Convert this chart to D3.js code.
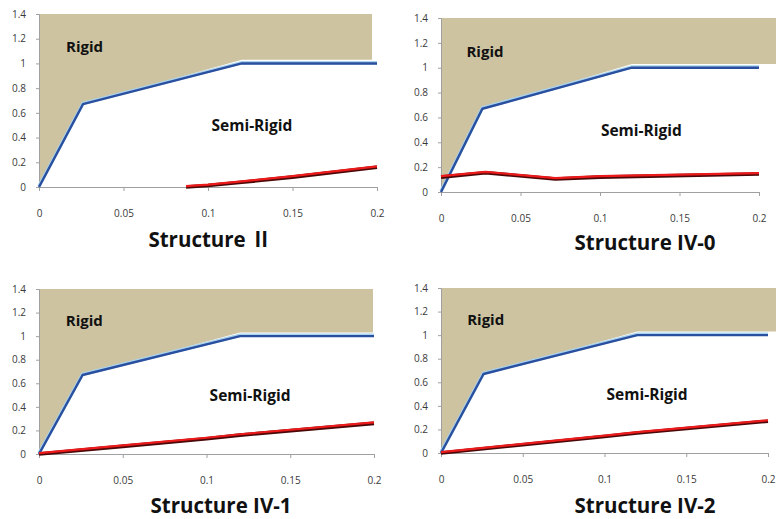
<!DOCTYPE html>
<html>
<head>
<meta charset="utf-8">
<script src="https://cdn.jsdelivr.net/npm/d3@7"></script>
<style>
  body { margin: 0; background: #fff; }
  svg { display: block; }
  .tick text { font-family: "Open Sans", "DejaVu Sans", sans-serif; fill: #3a3a3a; }
</style>
</head>
<body>
<svg id="chart" width="778" height="519"></svg>
<script>
//Axis ticks
const X_TICKS = [0, 0.05, 0.1, 0.15, 0.2];
const Y_TICKS = [0, 0.2, 0.4, 0.6, 0.8, 1, 1.2, 1.4];

//Rigid / semi-rigid boundary (same for all structures)
const BOUND_X = [0, 0.026, 0.12, 0.2];
const BOUND_Y = [0, 0.67, 1.0, 1.0];

//Shaded "Rigid" zone lower edge
const SHADE_Y = [0, 0.67, 1.03, 1.03];

//Panel titles (name + numeral part)
const TITLES = [["Structure ", "\u2161"], ["Structure ", "IV-0"], ["Structure ", "IV-1"], ["Structure ", "IV-2"]];

//Red curves
const RED_II_X = [0.087, 0.1, 0.12, 0.15, 0.2];
const RED_II_Y = [0, 0.012, 0.038, 0.08, 0.16];
const RED_IV0_X = [0, 0.028, 0.072, 0.1, 0.2];
const RED_IV0_Y = [0.12, 0.155, 0.105, 0.12, 0.145];
const RED_IV1_X = [0, 0.05, 0.1, 0.12, 0.2];
const RED_IV1_Y = [0, 0.065, 0.13, 0.16, 0.26];
const RED_IV2_X = [0, 0.05, 0.1, 0.12, 0.2];
const RED_IV2_Y = [0, 0.07, 0.14, 0.17, 0.27];

//Panel boxes in pixels (left, right, top, bottom, shade end, title x, title y)
const PANELS = [
  {x0: 39, x1: 377, y0: 14, y1: 187, shadeEnd: 372, tx: 210, ty: 247, rx: RED_II_X, ry: RED_II_Y},
  {x0: 441, x1: 759, y0: 18, y1: 192, shadeEnd: 776, tx: 645, ty: 250, rx: RED_IV0_X, ry: RED_IV0_Y},
  {x0: 39, x1: 374, y0: 289, y1: 454, shadeEnd: 373, tx: 221, ty: 513, rx: RED_IV1_X, ry: RED_IV1_Y},
  {x0: 441, x1: 768, y0: 288, y1: 453, shadeEnd: 776, tx: 645, ty: 513, rx: RED_IV2_X, ry: RED_IV2_Y}
];

const FONT = '"Open Sans", "DejaVu Sans", sans-serif';

var svg = d3.select("#chart");

function drawPanel(p, i) {
  var x = d3.scaleLinear().domain([0, 0.2]).range([p.x0, p.x1]);
  var y = d3.scaleLinear().domain([0, 1.4]).range([p.y1, p.y0]);
  var g = svg.append("g");

  //Shaded rigid area
  var xEnd = x.invert(p.shadeEnd);
  var shadeX = BOUND_X.slice(0, 3).concat([xEnd]);
  var pts = shadeX.map(function(d, k) { return [d, SHADE_Y[k]]; });
  var area = d3.area()
    .x(function(d) { return x(d[0]); })
    .y0(function(d) { return y(d[1]); })
    .y1(y(1.4));
  g.append("path")
    .attr("d", area(pts))
    .attr("fill", "#cdc3a1");

  //Axes
  var yAxis = d3.axisLeft(y).tickValues(Y_TICKS).tickSize(3).tickPadding(10)
    .tickFormat(function(d) { return d3.format("~g")(d); });
  var gy = g.append("g").attr("transform", "translate(" + p.x0 + ",0)").call(yAxis);
  var xAxis = d3.axisBottom(x).tickValues(X_TICKS).tickSize(4).tickPadding(19)
    .tickFormat(function(d) { return d3.format("~g")(d); });
  var gx = g.append("g").attr("transform", "translate(0," + p.y1 + ")").call(xAxis);
  [gx, gy].forEach(function(a) {
    a.select(".domain").attr("stroke", "#a0a0a0");
    a.selectAll(".tick line").attr("stroke", "#a0a0a0");
    a.selectAll(".tick text").attr("font-size", 10);
  });

  //Boundary line
  var line = d3.line()
    .x(function(d) { return x(d[0]); })
    .y(function(d) { return y(d[1]); });
  var bpts = BOUND_X.map(function(d, k) { return [d, BOUND_Y[k]]; });
  g.append("path").attr("d", line(bpts)).attr("fill", "none")
    .attr("stroke", "#a9d3ee").attr("stroke-width", 3.5)
    .attr("transform", "translate(0,-0.8)");
  g.append("path").attr("d", line(bpts)).attr("fill", "none")
    .attr("stroke", "#2a4f9e").attr("stroke-width", 2.4)
    .attr("stroke-linejoin", "round");

  //Red curve
  var rpts = p.rx.map(function(d, k) { return [d, p.ry[k]]; });
  g.append("path").attr("d", line(rpts)).attr("fill", "none")
    .attr("stroke", "#4a0808").attr("stroke-width", 3.6)
    .attr("stroke-linejoin", "round");
  g.append("path").attr("d", line(rpts)).attr("fill", "none")
    .attr("stroke", "#ec1a1a").attr("stroke-width", 2.2)
    .attr("stroke-linejoin", "round")
    .attr("transform", "translate(0,-0.9)");

  //Zone labels
  g.append("text").text("Rigid")
    .attr("x", x(0.016)).attr("y", y(1.13) + 5)
    .attr("font-family", FONT).attr("font-weight", "bold")
    .attr("font-size", 15).attr("fill", "#111");
  g.append("text").text("Semi-Rigid")
    .attr("x", x(0.126)).attr("y", y(0.49) + 5)
    .attr("text-anchor", "middle")
    .attr("font-family", FONT).attr("font-weight", "bold")
    .attr("font-size", 15.5).attr("fill", "#111");

  //Title
  var t = svg.append("text")
    .attr("x", p.tx).attr("y", p.ty)
    .attr("text-anchor", "middle")
    .attr("font-family", FONT).attr("font-weight", "bold")
    .attr("font-size", 20.5).attr("fill", "#111");
  t.append("tspan").text(TITLES[i][0]);
  t.append("tspan").text(TITLES[i][1])
    .attr("font-family", i === 0 ? '"Noto Sans CJK KR", "DejaVu Sans", sans-serif' : FONT);
}

PANELS.forEach(drawPanel);
</script>
</body>
</html>
